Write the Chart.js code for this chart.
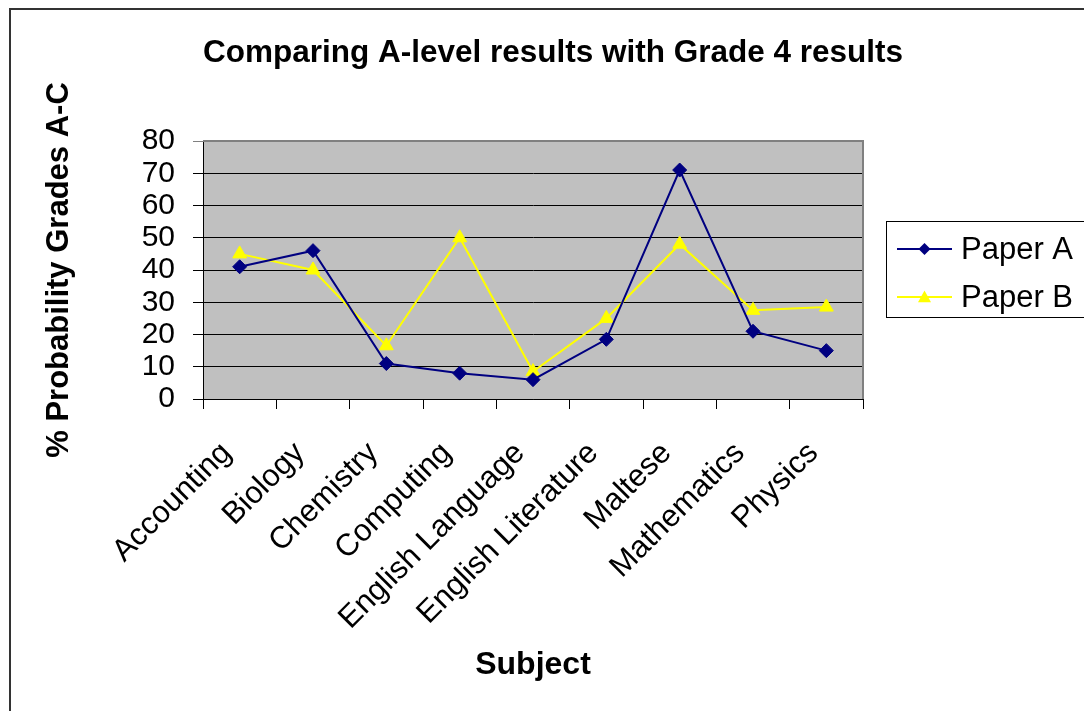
<!DOCTYPE html>
<html>
<head>
<meta charset="utf-8">
<script src="https://cdn.jsdelivr.net/npm/chart.js@4"></script>
<style>
html, body { margin: 0; padding: 0; background: #ffffff; }
#wrap { width: 1084px; height: 711px; position: relative; }
</style>
</head>
<body>
<div id="wrap"><canvas id="c"></canvas></div>
<script>
const chartTitle = 'Comparing A-level results with Grade 4 results';
const xTitle = 'Subject';
const yTitle = '% Probability Grades A-C';
const categories = ['Accounting', 'Biology', 'Chemistry', 'Computing', 'English Language', 'English Literature', 'Maltese', 'Mathematics', 'Physics'];
const seriesNames = ['Paper A', 'Paper B'];
const paperA = [41, 46, 11, 8, 6, 18.5, 71, 21, 15];
const paperB = [45, 40, 16.5, 50, 8.5, 25, 48, 27.5, 28.5];
const yMin = 0, yMax = 80, yStep = 10;

const FONT = "'Liberation Sans', Arial, sans-serif";

const decorPlugin = {
  id: 'decor',
  beforeDraw(chart) {
    const ctx = chart.ctx;
    const a = chart.chartArea;
    ctx.save();
    ctx.fillStyle = '#ffffff';
    ctx.fillRect(0, 0, chart.width, chart.height);
    ctx.fillStyle = '#C0C0C0';
    ctx.fillRect(a.left, a.top, a.right - a.left, a.bottom - a.top);
    ctx.restore();
  },
  beforeDatasetsDraw(chart) {
    const ctx = chart.ctx;
    const a = chart.chartArea;
    ctx.save();
    ctx.strokeStyle = '#808080';
    ctx.lineWidth = 2;
    ctx.beginPath();
    ctx.moveTo(a.left, a.top);
    ctx.lineTo(a.right, a.top);
    ctx.lineTo(a.right, a.bottom);
    ctx.stroke();
    ctx.restore();
  },
  afterDraw(chart) {
    const ctx = chart.ctx;
    ctx.save();
    // outer frame
    ctx.strokeStyle = '#333333';
    ctx.lineWidth = 2;
    ctx.strokeRect(10, 9, 1100, 720);
    // title
    ctx.fillStyle = '#000000';
    ctx.font = 'bold 31.5px ' + FONT;
    ctx.textAlign = 'center';
    ctx.textBaseline = 'middle';
    ctx.fillText(chartTitle, 553, 53);
    // legend
    ctx.strokeStyle = '#000000';
    ctx.lineWidth = 1;
    ctx.strokeRect(886.5, 221.5, 220, 96);
    const rows = [249, 297];
    chart.data.datasets.forEach((ds, i) => {
      const y = rows[i];
      ctx.strokeStyle = ds.borderColor;
      ctx.lineWidth = 2;
      ctx.beginPath();
      ctx.moveTo(897, y);
      ctx.lineTo(952, y);
      ctx.stroke();
      ctx.fillStyle = ds.pointBackgroundColor;
      ctx.beginPath();
      if (ds.pointStyle === 'rectRot') {
        const r = 6;
        ctx.moveTo(924.5, y - r); ctx.lineTo(924.5 + r, y); ctx.lineTo(924.5, y + r); ctx.lineTo(924.5 - r, y);
      } else {
        const r = 6.5;
        ctx.moveTo(924.5, y - r); ctx.lineTo(924.5 + r, y + r * 0.8); ctx.lineTo(924.5 - r, y + r * 0.8);
      }
      ctx.closePath();
      ctx.fill();
      ctx.fillStyle = '#000000';
      ctx.font = '31px ' + FONT;
      ctx.textAlign = 'left';
      ctx.textBaseline = 'middle';
      ctx.fillText(ds.label, 961, y + 1);
    });
    ctx.restore();
  }
};

new Chart(document.getElementById('c'), {
  type: 'line',
  data: {
    labels: categories,
    datasets: [
      {
        label: seriesNames[0],
        data: paperA,
        borderColor: '#000080',
        backgroundColor: '#000080',
        pointBackgroundColor: '#000080',
        pointBorderColor: '#000080',
        pointStyle: 'rectRot',
        pointRadius: 7,
        pointBorderWidth: 1,
        borderWidth: 2,
        tension: 0,
        fill: false
      },
      {
        label: seriesNames[1],
        data: paperB,
        borderColor: '#FFFF00',
        backgroundColor: '#FFFF00',
        pointBackgroundColor: '#FFFF00',
        pointBorderColor: '#FFFF00',
        pointStyle: 'triangle',
        pointRadius: 8,
        pointBorderWidth: 1,
        borderWidth: 2,
        tension: 0,
        fill: false
      }
    ]
  },
  options: {
    responsive: true,
    maintainAspectRatio: false,
    animation: false,
    events: [],
    layout: { padding: { left: 37, right: 221, top: 141, bottom: 23 } },
    plugins: {
      legend: { display: false },
      title: { display: false },
      tooltip: { enabled: false }
    },
    scales: {
      x: {
        type: 'category',
        offset: true,
        border: { display: true, color: '#000000', width: 1 },
        grid: {
          display: true,
          offset: true,
          drawOnChartArea: false,
          drawTicks: true,
          tickLength: 10,
          color: '#000000',
          lineWidth: 1
        },
        ticks: {
          autoSkip: false,
          maxRotation: 45,
          minRotation: 45,
          padding: 26,
          labelOffset: -13,
          color: '#000000',
          font: { family: FONT, size: 31 }
        },
        title: {
          display: true,
          text: xTitle,
          color: '#000000',
          font: { family: FONT, size: 32, weight: 'bold' }
        },
        afterFit(scale) { scale.height = 289; }
      },
      y: {
        min: yMin,
        max: yMax,
        border: { display: true, color: '#000000', width: 1 },
        grid: {
          display: true,
          drawTicks: true,
          tickLength: 10,
          color: (c) => (c.tick && c.tick.value === yMax ? '#808080' : '#000000'),
          lineWidth: 1
        },
        ticks: {
          stepSize: yStep,
          autoSkip: false,
          padding: 18,
          color: '#000000',
          font: { family: FONT, size: 30 }
        },
        title: {
          display: true,
          text: yTitle,
          color: '#000000',
          font: { family: FONT, size: 31, weight: 'bold' }
        },
        afterFit(scale) { scale.width = 166; }
      }
    }
  },
  plugins: [decorPlugin]
});
</script>
</body>
</html>
